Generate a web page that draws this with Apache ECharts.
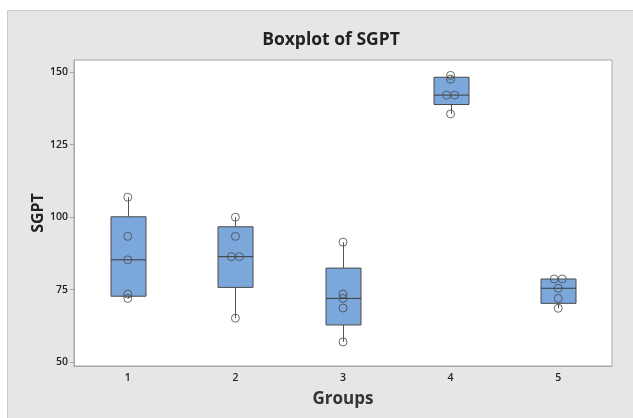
<!DOCTYPE html>
<html><head><meta charset="utf-8">
<script src="https://cdn.jsdelivr.net/npm/echarts@6/dist/echarts.min.js"></script>
<style>html,body{margin:0;padding:0;background:#fff;}#c{width:633px;height:418px;}</style>
</head><body><div id="c"></div>
<script>
var categories = ['1','2','3','4','5'];
var group1 = [72.0, 73.5, 85.3, 93.4, 106.9];
var group2 = [65.2, 86.4, 86.4, 93.4, 100.0];
var group3 = [57.0, 68.7, 72.0, 73.5, 91.4];
var group4 = [135.6, 142.1, 142.1, 147.6, 148.9];
var group5 = [68.6, 72.0, 75.5, 78.7, 78.7];
var yTicks = [50, 75, 100, 125, 150];
var groups = [group1, group2, group3, group4, group5];

function mq(s, f){ // Minitab quartile
  var n = s.length, p = (n+1)*f, lo = Math.floor(p);
  if (lo < 1) return s[0];
  if (lo >= n) return s[n-1];
  return s[lo-1] + (p-lo)*(s[lo]-s[lo-1]);
}
var boxData = groups.map(function(g, i){
  var s = g.slice().sort(function(a,b){return a-b;});
  var q1 = mq(s,0.25), med = mq(s,0.5), q3 = mq(s,0.75), iqr = q3-q1;
  var inl = s.filter(function(v){return v>=q1-1.5*iqr && v<=q3+1.5*iqr;});
  return [i, inl[0], q1, med, q3, inl[inl.length-1]];
});
var pts = [];
groups.forEach(function(g, i){
  g.forEach(function(v, j){
    var dup = g.filter(function(w){return w===v;}).length;
    var k = g.slice(0,j).filter(function(w){return w===v;}).length;
    var off = dup > 1 ? (k - (dup-1)/2) * 8 : 0;
    pts.push({value:[i, v], symbolOffset:[off, 0]});
  });
});

var chart = echarts.init(document.getElementById('c'));
chart.setOption({
  animation:false,
  graphic:[{type:'rect', z:-10, shape:{x:7.5,y:10.5,width:630,height:412}, style:{fill:'#e6e6e6', stroke:'#cccccc', lineWidth:1}}],
  title:{text:'Boxplot of SGPT', left:326, top:26, textAlign:'center',
    textStyle:{fontFamily:'Open Sans', fontWeight:'bold', fontSize:17.5, color:'#222'}},
  grid:{left:74, top:60, width:538, height:306, show:true, backgroundColor:'#fff', borderColor:'#a8a8a8', borderWidth:1},
  xAxis:{type:'category', data:categories, boundaryGap:true,
    name:'Groups', nameLocation:'middle', nameGap:25,
    nameTextStyle:{fontFamily:'Open Sans', fontWeight:'bold', fontSize:17, color:'#333'},
    axisLine:{lineStyle:{color:'#a8a8a8'}},
    axisTick:{alignWithLabel:true, length:4, lineStyle:{color:'#a8a8a8'}},
    axisLabel:{fontFamily:'Open Sans', fontWeight:600, fontSize:10.5, color:'#222', margin:7}},
  yAxis:{type:'value', min:48.7, max:154.2,
    name:'SGPT', nameLocation:'middle', nameGap:28, nameMoveOverlap:false,
    nameTextStyle:{fontFamily:'Open Sans', fontWeight:'bold', fontSize:16, color:'#222'},
    splitLine:{show:false},
    axisLine:{show:true, lineStyle:{color:'#a8a8a8'}},
    axisTick:{show:true, length:4, customValues:yTicks, lineStyle:{color:'#a8a8a8'}},
    axisLabel:{customValues:yTicks, fontFamily:'Open Sans', fontWeight:600, fontSize:10.5, color:'#222', margin:6}},
  series:[
    {type:'custom', data:boxData, z:2,
      renderItem:function(params, api){
        var x = api.value(0);
        var pMin = api.coord([x, api.value(1)]);
        var pQ1 = api.coord([x, api.value(2)]);
        var pMed = api.coord([x, api.value(3)]);
        var pQ3 = api.coord([x, api.value(4)]);
        var pMax = api.coord([x, api.value(5)]);
        var w = 35, cx = Math.round(pMed[0]) + 0.5;
        var ls = {stroke:'#555', lineWidth:1};
        return {type:'group', children:[
          {type:'line', shape:{x1:cx,y1:pMax[1],x2:cx,y2:pQ3[1]}, style:ls},
          {type:'line', shape:{x1:cx,y1:pQ1[1],x2:cx,y2:pMin[1]}, style:ls},
          {type:'rect', shape:{x:cx-w/2, y:pQ3[1], width:w, height:pQ1[1]-pQ3[1]}, style:{fill:'#7ba7db', stroke:'#4a4a4a', lineWidth:1}},
          {type:'line', shape:{x1:cx-w/2,y1:pMed[1],x2:cx+w/2,y2:pMed[1]}, style:{stroke:'#3c3c3c', lineWidth:1}}
        ]};
      }},
    {type:'scatter', data:pts, z:3, symbol:'circle', symbolSize:8,
      itemStyle:{color:'rgba(0,0,0,0)', borderColor:'#4a4a4a', borderWidth:1}}
  ]
});
</script></body></html>
